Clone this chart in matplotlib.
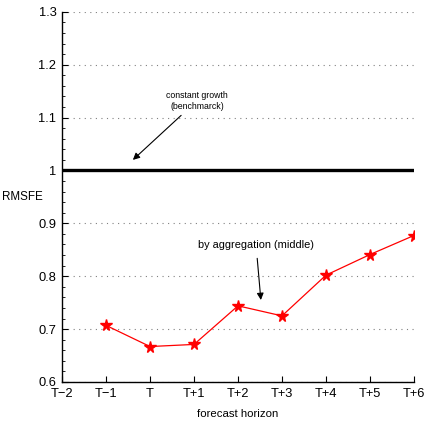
import matplotlib
matplotlib.use("Agg")
import matplotlib.pyplot as plt
from matplotlib.ticker import MultipleLocator

plt.rcParams['font.family'] = ['Liberation Sans', 'DejaVu Sans']

tick_labels = ["T\u22122", "T\u22121", "T", "T+1", "T+2", "T+3", "T+4", "T+5", "T+6"]
horizon = [-2, -1, 0, 1, 2, 3, 4, 5, 6]
y_ticks = [0.6, 0.7, 0.8, 0.9, 1.0, 1.1, 1.2, 1.3]
y_tick_labels = ["0.6", "0.7", "0.8", "0.9", "1", "1.1", "1.2", "1.3"]
agg_horizon = [-1, 0, 1, 2, 3, 4, 5, 6]
agg_rmsfe = [0.707, 0.667, 0.671, 0.744, 0.725, 0.802, 0.841, 0.877]
benchmark = 1.0

fig = plt.figure(figsize=(4.25, 4.23), dpi=100)
ax = fig.add_axes([0.146, 0.097, 0.828, 0.875])

ax.axhline(benchmark, color="black", lw=2.4, zorder=3)
ax.plot(agg_horizon, agg_rmsfe, color="red", lw=0.9, marker="*",
        markersize=8.5, markerfacecolor="red", markeredgecolor="red", zorder=4)

ax.set_xlim(-2, 6)
ax.set_ylim(0.6, 1.3)
ax.set_xticks(horizon)
ax.set_xticklabels(tick_labels)
ax.set_yticks(y_ticks)
ax.set_yticklabels(y_tick_labels)
ax.yaxis.set_minor_locator(MultipleLocator(0.02))

ax.grid(axis="y", which="major", linestyle=(0, (1, 4)), color="#808080", lw=0.8)
ax.set_axisbelow(True)
for s in ["top", "right"]:
    ax.spines[s].set_visible(False)
ax.spines["left"].set_linewidth(1.0)
ax.spines["bottom"].set_linewidth(1.0)
ax.tick_params(which="both", direction="in", labelsize=9.3)
ax.tick_params(axis="x", pad=4)
ax.tick_params(axis="y", pad=4)
ax.tick_params(which="major", length=4)
ax.tick_params(which="minor", length=2)

ax.set_xlabel("forecast horizon", fontsize=8.2, labelpad=7)
ax.set_ylabel("RMSFE", fontsize=8.4, rotation=0, ha="center", va="center")
ax.yaxis.set_label_coords(-0.113, 0.5)

ax.annotate("constant growth\n(benchmarck)", xy=(-0.39, 1.02), xytext=(1.07, 1.132),
            fontsize=6.3, ha="center", va="center", linespacing=1.3,
            arrowprops=dict(arrowstyle="-|>", color="black", lw=0.8,
                            mutation_scale=10, shrinkA=2, shrinkB=0))
ax.annotate("by aggregation (middle)", xy=(2.52, 0.755), xytext=(2.41, 0.859),
            fontsize=7.9, ha="center", va="center",
            arrowprops=dict(arrowstyle="-|>", color="black", lw=0.8,
                            mutation_scale=10, shrinkA=4, shrinkB=0))

fig.savefig("out.png", dpi=100)
